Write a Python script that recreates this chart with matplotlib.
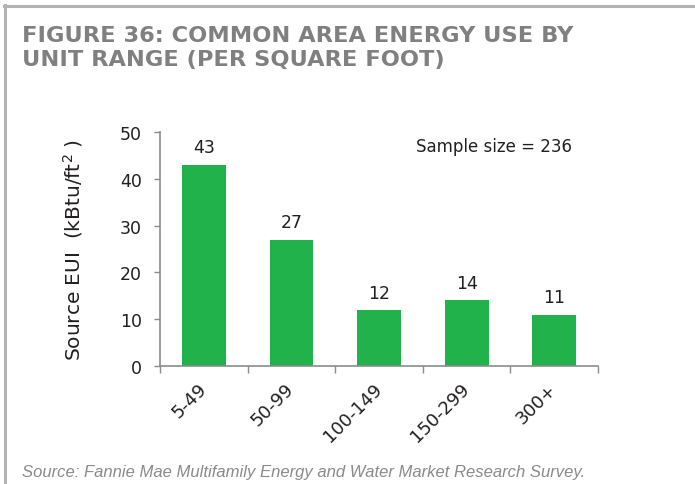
import matplotlib
matplotlib.use("Agg")
import matplotlib.pyplot as plt
from matplotlib.lines import Line2D
from matplotlib.ticker import FixedLocator

unit_ranges = ["5-49", "50-99", "100-149", "150-299", "300+"]
source_eui = [43, 27, 12, 14, 11]
sample_size = 236

title_lines = ["FIGURE 36: COMMON AREA ENERGY USE BY",
               "UNIT RANGE (PER SQUARE FOOT)"]
source_note = "Source: Fannie Mae Multifamily Energy and Water Market Research Survey."

bar_color = "#22b24c"
axis_gray = "#8c8c8c"
text_dark = "#231f20"

plt.rcParams["font.family"] = ["DejaVu Sans"]

fig = plt.figure(figsize=(6.95, 4.85), dpi=100)
fig.patch.set_facecolor("white")

# page frame: left and top rules
fig.add_artist(Line2D([5 / 695, 5 / 695], [0, 1 - 6 / 485],
                      transform=fig.transFigure, color="#b3b3b3", lw=2.2))
fig.add_artist(Line2D([4 / 695, 1], [1 - 7 / 485, 1 - 7 / 485],
                      transform=fig.transFigure, color="#b3b3b3", lw=2.2))

for i, line in enumerate(title_lines):
    fig.text(22 / 695, 1 - (42 + 24 * i) / 485, line, ha="left", va="baseline",
             fontsize=16.2, fontweight="bold", color="#808080")

ax = fig.add_axes([160 / 695, 118 / 485, 438 / 695, 234 / 485])
x = list(range(len(unit_ranges)))
bars = ax.bar(x, source_eui, width=0.5, color=bar_color, zorder=2)

for xi, v in zip(x, source_eui):
    ax.annotate(f"{v}", (xi, v), xytext=(0, 6), textcoords="offset points",
                ha="center", va="bottom", fontsize=12.5, color=text_dark)

ax.text(3.31, 47, f"Sample size = {sample_size}", ha="center", va="center",
        fontsize=12, color=text_dark)

ax.set_xlim(-0.5, 4.5)
ax.set_ylim(0, 50)
ax.set_yticks(range(0, 51, 10))
ax.set_xticks(x)
ax.set_xticklabels(unit_ranges, rotation=45, ha="right", va="center",
                   rotation_mode="anchor", fontsize=13, color=text_dark)
ax.xaxis.set_minor_locator(FixedLocator([i + 0.5 for i in range(-1, len(x))]))
ax.tick_params(axis="x", which="major", length=0, pad=14)
ax.tick_params(axis="x", which="minor", length=5, color=axis_gray, width=1)
ax.tick_params(axis="y", length=4, color=axis_gray, width=1, pad=9,
               labelsize=12.5, labelcolor=text_dark)

for side in ["top", "right"]:
    ax.spines[side].set_visible(False)
for side in ["left", "bottom"]:
    ax.spines[side].set_color(axis_gray)
    ax.spines[side].set_linewidth(1.2)

ax.set_ylabel("Source EUI  (kBtu/ft$^{2}$ )", fontsize=14.5, color=text_dark)
ax.yaxis.set_label_coords(-0.171, 0.5)

fig.text(22 / 695, 1 - 473 / 485, source_note, ha="left", va="center",
         fontsize=12, style="italic", color="#8a8a8a",
         family=["Liberation Sans", "DejaVu Sans"])

fig.savefig("out.png", dpi=100, facecolor="white")
